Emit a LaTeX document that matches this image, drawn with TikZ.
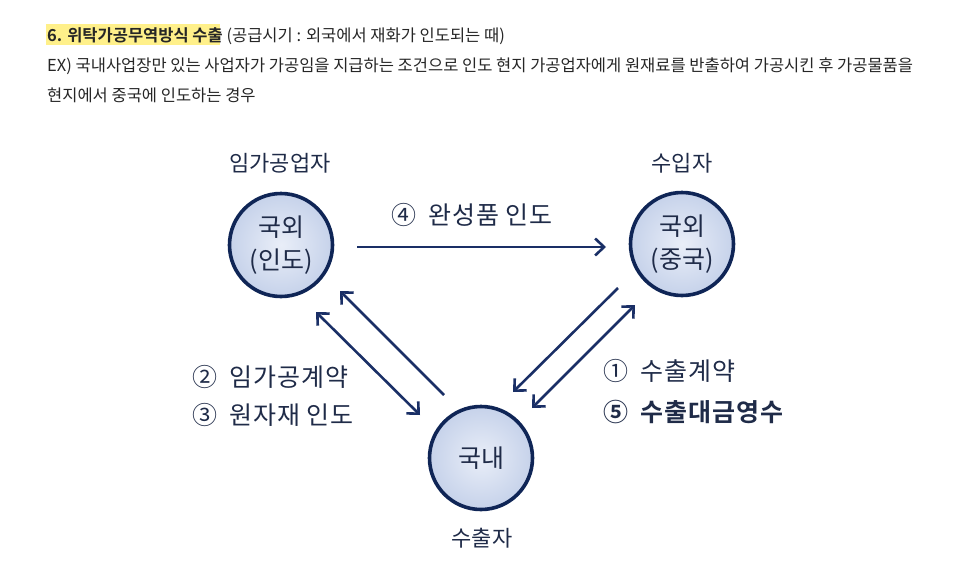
\documentclass[tikz,border=0pt]{standalone}
\usepackage{fontspec}
\setmainfont{Noto Sans CJK KR}[BoldFont={* Bold}]
\newfontfamily\widefont{Noto Sans CJK KR}[BoldFont={* Bold},LetterSpace=4]
\usetikzlibrary{arrows.meta}
\definecolor{navy}{HTML}{0F2556}
\definecolor{arrowc}{HTML}{1A2F66}
\definecolor{txtc}{HTML}{1F2B48}
\definecolor{circin}{HTML}{E9EEF8}
\definecolor{circout}{HTML}{C6D2EA}
\definecolor{hl}{HTML}{FFF08A}
\newcommand{\dgap}{\hspace{12pt}}
\begin{document}
\begin{tikzpicture}[x=1pt,y=-1pt,
  party/.style={circle, draw=navy, line width=3.6pt, minimum size=103pt, inner sep=0pt,
     inner color=circin, outer color=circout, text=txtc, font=\fontsize{25}{33}\selectfont, align=center},
  role/.style={text=txtc, font=\fontsize{22}{26}\selectfont, inner sep=0pt},
  lbl/.style={text=txtc, font=\widefont\fontsize{25}{28}\selectfont, inner sep=0pt, anchor=base west},
  flow/.style={draw=arrowc, line width=2.6pt, -{Straight Barb[length=9pt,width=17pt,line width=2.6pt]}},
  bflow/.style={draw=arrowc, line width=2.6pt, {Straight Barb[length=9pt,width=17pt,line width=2.6pt]}-{Straight Barb[length=9pt,width=17pt,line width=2.6pt]}},
  hdr/.style={font=\fontsize{16.5}{20}\selectfont, inner sep=0pt, anchor=base west, text=black!85}
]
\useasboundingbox (0,0) rectangle (954,565);
% header
\fill[hl] (46,24) rectangle (220,45);
\node[hdr] (h1) at (47,41) {\textbf{6. 위탁가공무역방식 수출} (공급시기 : 외국에서 재화가 인도되는 때)};
\node[hdr] (h2) at (47,71) {EX) 국내사업장만 있는 사업자가 가공임을 지급하는 조건으로 인도 현지 가공업자에게 원재료를 반출하여 가공시킨 후 가공물품을};
\node[hdr] (h3) at (47,101) {현지에서 중국에 인도하는 경우};
% circles
\node[party] (india) at (281,245) {국외\\(인도)};
\node[party] (china) at (682,244) {국외\\(중국)};
\node[party] (home) at (481,458) {국내};
% roles
\node[role] (r1) at (280,163) {임가공업자};
\node[role] (r2) at (682,163) {수입자};
\node[role] (r3) at (482,538) {수출자};
% arrow coordinates
\coordinate (t1) at (357,247); \coordinate (t2) at (606,247);
\coordinate (a1) at (444,395); \coordinate (a2) at (340,291);
\coordinate (b1) at (316,312); \coordinate (b2) at (420,415);
\coordinate (c1) at (618,288); \coordinate (c2) at (513,392);
\coordinate (d1) at (635,305); \coordinate (d2) at (532,408);
\draw[flow] (t1) -- (t2);
\draw[flow] (a1) -- (a2);
\draw[bflow] (b1) -- (b2);
\draw[flow] (c1) -- (c2);
\draw[bflow] (d1) -- (d2);
% labels
\node[lbl] (l4) at (391,224) {④\dgap{}완성품 인도};
\node[lbl] (l2) at (192,386) {②\dgap{}임가공계약};
\node[lbl] (l3) at (192,424) {③\dgap{}원자재 인도};
\node[lbl] (l1) at (603,380) {①\dgap{}수출계약};
\node[lbl] (l5) at (603,421) {\textbf{⑤\dgap{}수출대금영수}};
\end{tikzpicture}
\end{document}
